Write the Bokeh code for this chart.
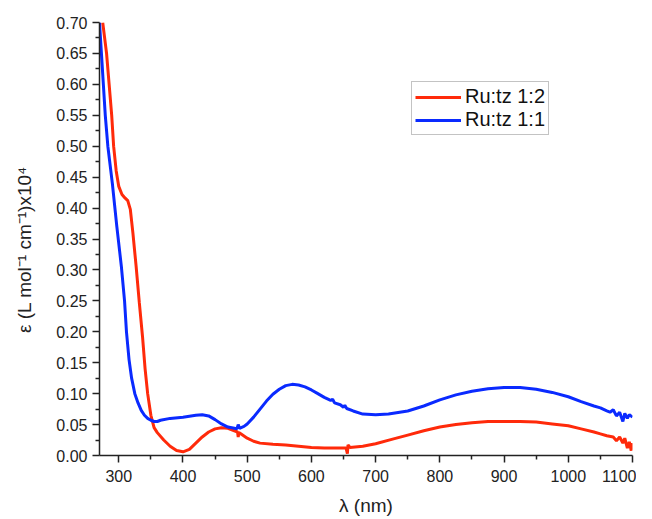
from bokeh.plotting import figure
from bokeh.models import Range1d, Legend, LegendItem, FixedTicker, NumeralTickFormatter
from bokeh.embed import file_html
from bokeh.resources import INLINE

# Ru:tz 1:2 (red)
lam_red = [275, 281, 285, 289, 292, 296, 300, 305, 310, 314, 318, 322, 327, 332, 337, 341,
           345, 350, 355, 360, 370, 380, 390, 400, 410, 420, 430, 440, 450, 460, 470, 480,
           485, 486, 487, 490, 500, 510, 520, 540, 560, 580, 600, 620, 640, 654, 656, 657,
           660, 680, 700, 725, 750, 775, 800, 825, 850, 875, 900, 925, 950, 975, 1000, 1020,
           1040, 1050, 1060, 1070, 1075, 1080, 1085, 1088, 1092, 1095, 1098, 1100]
eps_red = [0.70, 0.65, 0.60, 0.55, 0.50, 0.46, 0.435, 0.422, 0.416, 0.412, 0.398, 0.36, 0.306, 0.247, 0.192, 0.14,
           0.10, 0.065, 0.045, 0.037, 0.025, 0.015, 0.008, 0.006, 0.010, 0.020, 0.030, 0.038, 0.043, 0.045, 0.044, 0.040,
           0.038, 0.030, 0.037, 0.035, 0.028, 0.023, 0.020, 0.018, 0.017, 0.015, 0.013, 0.012, 0.012, 0.012, 0.003, 0.017,
           0.013, 0.015, 0.019, 0.026, 0.033, 0.040, 0.046, 0.050, 0.053, 0.055, 0.055, 0.055, 0.054, 0.051, 0.048, 0.043,
           0.038, 0.035, 0.032, 0.030, 0.024, 0.030, 0.020, 0.028, 0.012, 0.022, 0.008, 0.020]

# Ru:tz 1:1 (blue)
lam_blue = [270, 273, 276, 279, 283, 290, 297, 304, 309, 312, 316, 320, 325, 330, 335, 340,
            345, 350, 355, 360, 365, 380, 400, 420, 430, 440, 450, 460, 470, 480, 484, 486,
            488, 495, 500, 510, 520, 530, 540, 550, 560, 570, 580, 590, 600, 610, 620, 630,
            633, 636, 645, 650, 652, 655, 665, 680, 700, 720, 750, 775, 800, 825, 850, 875,
            900, 925, 950, 975, 1000, 1020, 1040, 1050, 1060, 1065, 1070, 1075, 1080, 1085,
            1088, 1092, 1095, 1100]
eps_blue = [0.70, 0.65, 0.60, 0.55, 0.50, 0.44, 0.37, 0.306, 0.25, 0.20, 0.155, 0.125, 0.10, 0.085, 0.073, 0.065,
            0.060, 0.057, 0.055, 0.055, 0.057, 0.060, 0.062, 0.065, 0.066, 0.064, 0.058, 0.051, 0.046, 0.044, 0.043, 0.050,
            0.044, 0.047, 0.051, 0.062, 0.075, 0.088, 0.099, 0.107, 0.113, 0.115, 0.114, 0.111, 0.106, 0.100, 0.094, 0.089,
            0.091, 0.085, 0.082, 0.078, 0.081, 0.076, 0.072, 0.067, 0.066, 0.067, 0.072, 0.080, 0.090, 0.098, 0.104, 0.108,
            0.110, 0.110, 0.107, 0.102, 0.095, 0.087, 0.080, 0.077, 0.072, 0.070, 0.074, 0.064, 0.070, 0.055,
            0.068, 0.060, 0.066, 0.062]

x_ticks = [300, 400, 500, 600, 700, 800, 900, 1000, 1100]
y_ticks = [0.00, 0.05, 0.10, 0.15, 0.20, 0.25, 0.30, 0.35, 0.40, 0.45, 0.50, 0.55, 0.60, 0.65, 0.70]

FONT = "Liberation Sans"

p = figure(width=636, height=518, output_backend="svg", toolbar_location=None,
           x_range=Range1d(270, 1100), y_range=Range1d(0, 0.70),
           min_border_left=99, min_border_right=4, min_border_top=22, min_border_bottom=63)
p.outline_line_color = None
p.xgrid.visible = False
p.ygrid.visible = False

r_red = p.line(lam_red, eps_red, line_color="#ff2a0a", line_width=3)
r_blue = p.line(lam_blue, eps_blue, line_color="#0a2aff", line_width=3)

for ax in (p.xaxis[0], p.yaxis[0]):
    ax.axis_line_color = "#222222"
    ax.axis_line_width = 1.5
    ax.major_tick_line_color = "#222222"
    ax.minor_tick_line_color = "#222222"
    ax.major_tick_line_width = 1.5
    ax.minor_tick_line_width = 1.5
    ax.major_tick_out = 7
    ax.major_tick_in = 0
    ax.minor_tick_out = 4
    ax.minor_tick_in = 0
    ax.major_label_text_font = FONT
    ax.major_label_text_font_size = "16px"
    ax.major_label_text_color = "#222222"
    ax.axis_label_text_font = FONT
    ax.axis_label_text_font_size = "19px"
    ax.axis_label_text_font_style = "normal"
    ax.axis_label_text_color = "#222222"

p.xaxis.ticker = FixedTicker(ticks=x_ticks, minor_ticks=[350, 450, 550, 650, 750, 850, 950, 1050])
p.yaxis.ticker = FixedTicker(ticks=y_ticks,
                             minor_ticks=[0.025 + 0.05 * i for i in range(14)])
p.yaxis.formatter = NumeralTickFormatter(format="0.00")
p.xaxis.axis_label = "λ (nm)"
p.yaxis.axis_label = "ε (L mol⁻¹ cm⁻¹)x10⁴\u00a0\u00a0\u00a0\u00a0"
p.xaxis.major_label_standoff = 7
p.yaxis.major_label_standoff = 5
p.xaxis.axis_label_standoff = 10
p.yaxis.axis_label_standoff = 18

legend = Legend(items=[LegendItem(label="Ru:tz 1:2", renderers=[r_red]),
                       LegendItem(label="Ru:tz 1:1", renderers=[r_blue])],
                location=(312, 320))
legend.label_text_font = FONT
legend.label_text_font_size = "20px"
legend.label_text_color = "#111111"
legend.border_line_color = "#888888"
legend.border_line_width = 1
legend.background_fill_alpha = 1
legend.glyph_width = 46
legend.glyph_height = 20
legend.label_height = 20
legend.label_standoff = 4
legend.padding = 3
legend.spacing = 0
legend.margin = 0
p.add_layout(legend, "center")

open("out.html", "w").write(file_html(p, INLINE))
